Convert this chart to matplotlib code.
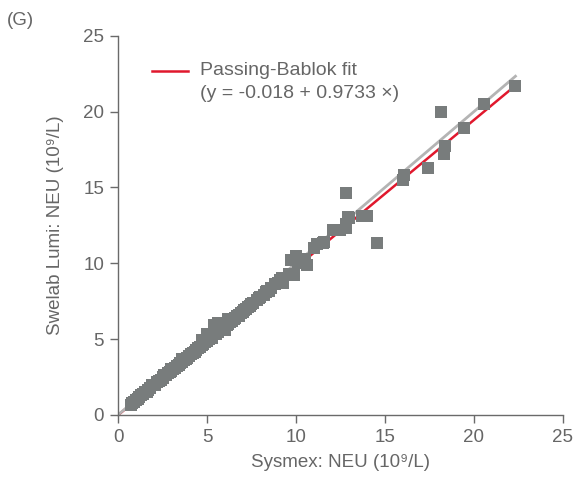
import matplotlib
matplotlib.use("Agg")
import matplotlib.pyplot as plt
from matplotlib.lines import Line2D
import numpy as np

# Sysmex NEU (x) vs Swelab Lumi NEU (y), 10^9/L
sysmex = [0.7, 0.8, 0.9, 1.0, 1.1, 1.2, 1.3, 1.4, 1.5, 1.6, 1.7, 1.8, 2.0, 2.1, 2.2, 2.3,
          2.4, 2.5, 2.6, 2.7, 2.8, 2.9, 3.0, 3.1, 3.2, 3.3, 3.4, 3.5, 3.6, 3.7, 3.8, 3.9,
          4.0, 4.1, 4.2, 4.3, 4.4, 4.5, 4.6, 4.7, 4.8, 4.9, 5.0, 5.1, 5.2, 5.3, 5.4, 5.5,
          5.6, 5.7, 5.8, 5.9, 6.0, 6.1, 6.2, 6.3, 6.4, 6.5, 6.6, 6.7, 6.8, 6.9, 7.0, 7.1,
          7.2, 7.3, 7.5, 7.6, 7.8, 7.9, 8.0, 8.2, 8.4, 8.5, 8.6, 8.8, 9.0, 9.1, 9.2, 9.3,
          9.6, 9.7, 9.9, 10.0, 10.1, 10.2, 10.5, 10.6, 11.0, 11.2, 11.5, 11.6, 12.1, 12.5,
          12.8, 12.8, 12.9, 13.0, 13.7, 14.0, 14.55, 12.8, 16.0, 16.07, 17.4, 18.3, 18.37,
          18.15, 19.44, 20.56, 22.3,
          1.9, 2.5, 3.0, 3.6, 4.2, 4.7, 5.0, 5.4, 5.6, 6.0, 6.2, 6.8, 7.4, 8.3]
swelab = [0.65, 0.8, 0.85, 1.0, 1.05, 1.15, 1.3, 1.35, 1.5, 1.5, 1.65, 1.75, 1.95, 2.0, 2.15, 2.25,
          2.3, 2.4, 2.6, 2.6, 2.75, 2.8, 2.9, 3.0, 3.1, 3.25, 3.3, 3.4, 3.5, 3.6, 3.7, 3.75,
          3.9, 4.0, 4.1, 4.15, 4.3, 4.4, 4.45, 4.6, 4.65, 4.8, 4.9, 5.0, 5.05, 5.1, 5.3, 5.35,
          5.45, 5.6, 5.65, 5.7, 5.8, 5.95, 6.0, 6.1, 6.2, 6.3, 6.4, 6.5, 6.6, 6.7, 6.8, 6.9,
          7.0, 7.1, 7.3, 7.35, 7.6, 7.7, 7.8, 7.9, 8.2, 8.2, 8.4, 8.6, 8.7, 8.9, 9.0, 8.7,
          9.3, 10.2, 9.2, 10.5, 10.0, 10.3, 10.3, 9.9, 11.0, 11.3, 11.35, 11.4, 12.2, 12.2,
          12.6, 14.64, 13.06, 13.0, 13.1, 13.1, 11.35, 12.3, 15.5, 15.83, 16.3, 17.2, 17.74,
          19.99, 18.93, 20.5, 21.7,
          1.95, 2.5, 3.05, 3.65, 4.1, 4.95, 5.3, 5.9, 6.05, 5.6, 6.3, 6.5, 7.2, 8.1]

fit_intercept = -0.018
fit_slope = 0.9733
line_range = [0.0, 22.4]

fig = plt.figure(figsize=(5.76, 4.79), dpi=100)
ax = fig.add_axes([0.205, 0.134, 0.772, 0.791])

font = ['Liberation Sans', 'DejaVu Sans']
txt_color = '#666666'

xr = np.array(line_range)
ax.plot(xr, xr, color='#b4b4b4', lw=2.0, zorder=2, solid_capstyle='butt')
ax.plot(xr, fit_intercept + fit_slope * xr, color='#e0182d', lw=1.8, zorder=1,
        solid_capstyle='butt')
ax.scatter(sysmex, swelab, marker='s', s=72, color='#787c7c', linewidths=0, zorder=3)

ax.set_xlim(0, 25)
ax.set_ylim(0, 25)
ax.set_xticks([0, 5, 10, 15, 20, 25])
ax.set_yticks([0, 5, 10, 15, 20, 25])
for s in ['top', 'right']:
    ax.spines[s].set_visible(False)
for s in ['left', 'bottom']:
    ax.spines[s].set_color('#6a6a6a')
    ax.spines[s].set_linewidth(1.0)
ax.tick_params(direction='out', length=6, width=1.0, color='#6a6a6a',
               labelcolor=txt_color, labelsize=13.5, pad=4)
for lab in ax.get_xticklabels() + ax.get_yticklabels():
    lab.set_family(font)

ax.set_xlabel('Sysmex: NEU (10⁹/L)', fontsize=13.5, color=txt_color, family=font, labelpad=6)
ax.set_ylabel('Swelab Lumi: NEU (10⁹/L)', fontsize=13.5, color=txt_color, family=font, labelpad=14)

# legend
ax.add_line(Line2D([0.076, 0.157], [0.908, 0.908], transform=ax.transAxes,
                   color='#e0182d', lw=1.8))
ax.text(0.184, 0.908, 'Passing-Bablok fit', transform=ax.transAxes, fontsize=14,
        color=txt_color, family=font, va='center', ha='left')
ax.text(0.184, 0.849, '(y = -0.018 + 0.9733 ×)', transform=ax.transAxes, fontsize=14,
        color=txt_color, family=font, va='center', ha='left')

fig.text(0.012, 0.957, '(G)', fontsize=13.5, color=txt_color, family=font, va='center')

fig.savefig('out.png', dpi=100)
